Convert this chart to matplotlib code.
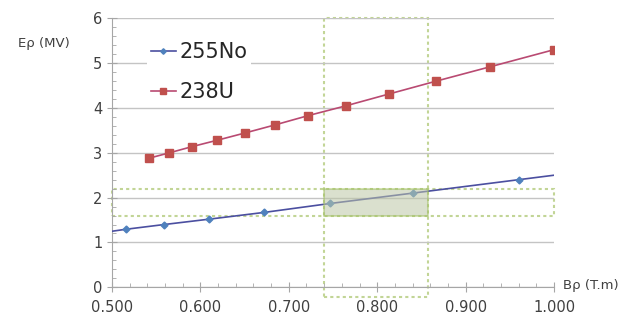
import matplotlib
matplotlib.use("Agg")
import matplotlib.pyplot as plt
from matplotlib.patches import Rectangle
from matplotlib.ticker import MultipleLocator, FormatStrFormatter

# Magnetic rigidity (T.m) vs electric rigidity (MV)
no_x = [0.500, 0.516, 0.559, 0.610, 0.672, 0.747, 0.840, 0.960, 1.000]
no_y = [1.25, 1.295, 1.40, 1.52, 1.67, 1.87, 2.10, 2.40, 2.50]
u_x = [0.542, 0.565, 0.591, 0.619, 0.650, 0.684, 0.722, 0.765, 0.813, 0.867, 0.928, 1.000]
u_y = [2.88, 3.00, 3.14, 3.28, 3.44, 3.62, 3.83, 4.05, 4.31, 4.60, 4.92, 5.30]

# acceptance windows
b_window = (0.740, 0.857)
e_window = (1.585, 2.19)

fig = plt.figure(figsize=(6.26, 3.2), dpi=100)
ax = fig.add_axes([0.1789, 0.1022, 0.885 - 0.1789, 0.9428 - 0.1022])

ax.set_xlim(0.5, 1.0)
ax.set_ylim(0, 6)

grid_c = "#c4c4c4"
ax.yaxis.set_major_locator(MultipleLocator(1))
ax.yaxis.set_minor_locator(MultipleLocator(0.2))
ax.xaxis.set_major_locator(MultipleLocator(0.1))
ax.xaxis.set_minor_locator(MultipleLocator(0.02))
ax.xaxis.set_major_formatter(FormatStrFormatter("%.3f"))
ax.grid(axis="y", which="major", color=grid_c, lw=1.0, zorder=0)
for s in ["top", "right"]:
    ax.spines[s].set_visible(False)
for s in ["left", "bottom"]:
    ax.spines[s].set_color("#a6a6a6")
ax.tick_params(which="major", direction="inout", length=7, color="#a6a6a6",
               labelsize=10.5, labelcolor="#404040")
ax.tick_params(which="minor", direction="in", length=3, color="#a6a6a6")
ax.tick_params(axis="x", pad=6)

# dotted windows
win_c = "#c2d596"
ax.add_patch(Rectangle((b_window[0], -0.21), b_window[1] - b_window[0], 6.21,
                       fill=False, ls=(0, (1.5, 1.5)), ec=win_c, lw=1.5,
                       clip_on=False, zorder=1))
ax.add_patch(Rectangle((0.5, e_window[0]), 0.5, e_window[1] - e_window[0],
                       fill=False, ls=(0, (1.5, 1.5)), ec=win_c, lw=1.5,
                       clip_on=False, zorder=1))
ax.add_patch(Rectangle((b_window[0], e_window[0]), b_window[1] - b_window[0],
                       e_window[1] - e_window[0], fc="#bcc7a6", alpha=0.55,
                       ec="#9fbf5c", lw=1.2, zorder=4))

ax.plot(no_x, no_y, color="#4b4fa0", lw=1.2, marker="D", ms=3.5,
        mfc="#4f81bd", mec="#4f81bd", markevery=list(range(1, 8)),
        label="255No", zorder=3)
ax.plot(u_x, u_y, color="#b94a72", lw=1.2, marker="s", ms=5.5,
        mfc="#c0504d", mec="#c0504d", label="238U", zorder=3)

leg = ax.legend(loc="upper left", bbox_to_anchor=(0.055, 0.965), frameon=True,
                fontsize=15, handlelength=1.2, handletextpad=0.15,
                labelspacing=0.95, borderpad=0.2, markerscale=0.8)
leg.get_frame().set_edgecolor("none")
leg.get_frame().set_facecolor("white")
leg.get_frame().set_alpha(1)
for t in leg.get_texts():
    t.set_color("#262626")

fig.text(18 / 626, 1 - 43 / 320, "Eρ (MV)", fontsize=9.5, color="#404040",
         va="center", ha="left")
fig.text(563 / 626, 1 - 286 / 320, "Bρ (T.m)", fontsize=9.5, color="#404040",
         va="center", ha="left")

fig.savefig("out.png", dpi=100)
